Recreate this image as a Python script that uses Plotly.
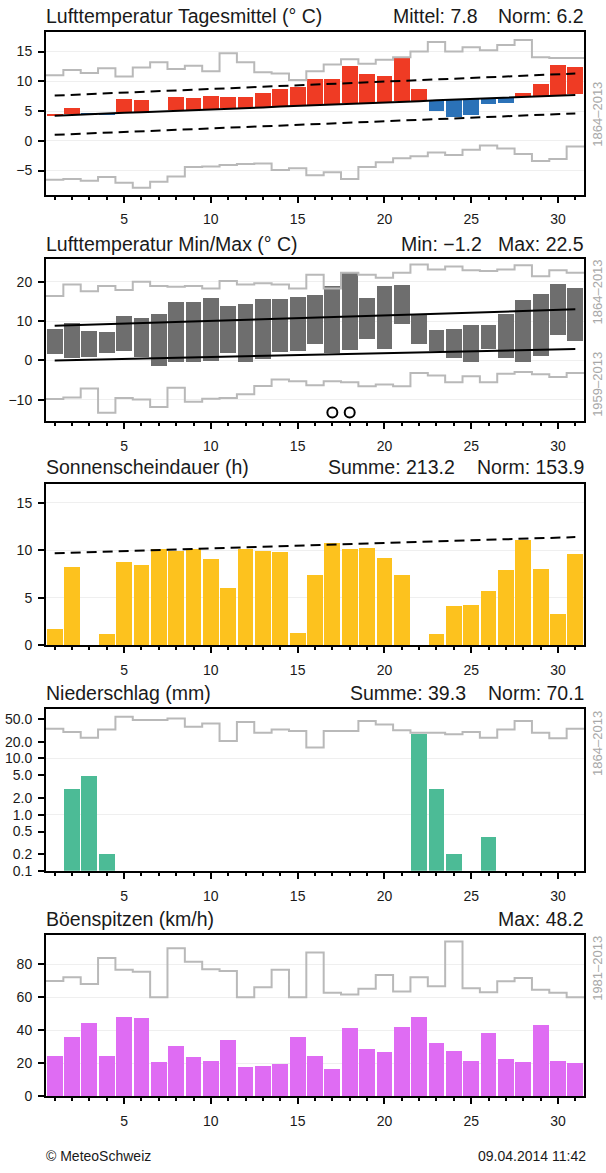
import plotly.graph_objects as go

# ---------------- data ----------------
days = list(range(1, 32))
tick_days = [5, 10, 15, 20, 25, 30]

# Panel 1: daily mean temperature
temp_mean = [4.4, 5.5, 4.2, 4.4, 7.0, 6.8, 4.8, 7.2, 7.1, 7.4, 7.3, 7.2, 7.9, 8.7, 8.9,
             10.3, 10.3, 12.5, 11.1, 10.8, 13.8, 8.7, 5.0, 3.9, 4.3, 6.1, 6.3, 7.9, 9.4, 12.6, 12.3]
temp_norm = [4.2, 4.35, 4.45, 4.55, 4.7, 4.8, 4.9, 5.05, 5.15, 5.25, 5.4, 5.5, 5.6, 5.75, 5.85,
             5.95, 6.1, 6.2, 6.3, 6.45, 6.55, 6.65, 6.8, 6.9, 7.0, 7.15, 7.25, 7.35, 7.5, 7.6, 7.7]
band_days = [1, 31]
temp_band_hi = [7.6, 11.3]
temp_band_lo = [1.0, 4.6]
temp_rec_max = [11.0, 11.9, 11.4, 12.2, 10.8, 12.3, 13.2, 12.05, 12.6, 11.7, 14.7, 13.2, 11.5, 11.3, 10.2,
                11.7, 12.8, 13.7, 12.95, 13.6, 14.05, 15.0, 16.6, 15.0, 15.7, 15.2, 16.1, 16.95, 14.05, 13.9, 13.9]
temp_rec_min = [-6.55, -6.4, -6.7, -6.1, -7.05, -7.9, -6.9, -6.0, -4.4, -4.3, -4.05, -3.9, -3.8, -4.9, -4.6,
                -5.8, -5.3, -6.4, -4.4, -3.6, -2.95, -2.6, -1.95, -2.4, -1.5, -0.8, -1.3, -2.2, -3.4, -3.05, -0.95]

# Panel 2: min / max temperature
tmax = [8.2, 9.7, 7.7, 7.4, 11.3, 10.9, 11.9, 15.0, 15.0, 16.1, 13.9, 14.4, 15.7, 15.7, 16.3,
        16.8, 19.1, 22.5, 16.1, 19.1, 19.3, 12.0, 7.9, 8.1, 9.2, 9.2, 11.9, 15.4, 17.0, 19.6, 18.5]
tmin = [1.8, 0.8, 1.0, 1.9, 2.5, 1.0, -1.2, -0.2, -0.2, -0.1, 2.1, -0.2, 0.4, 2.3, 2.5,
        4.4, 1.9, 2.7, 5.6, 3.1, 9.3, 4.3, 2.5, 0.7, -0.2, 3.1, 0.7, -0.2, 1.2, 6.7, 5.0]
tmax_norm = [8.8, 13.0]
tmin_norm = [0.0, 2.9]
tmax_rec = [16.4, 19.3, 17.6, 18.9, 17.9, 20.0, 18.9, 18.7, 18.9, 18.3, 20.2, 19.3, 19.6, 19.3, 18.3,
            21.8, 18.3, 22.3, 21.8, 21.0, 22.3, 24.4, 23.1, 23.9, 22.9, 22.7, 23.1, 24.2, 21.4, 22.9, 22.3]
tmin_rec = [-9.8, -9.4, -7.1, -13.3, -9.5, -9.9, -11.8, -6.9, -10.5, -9.7, -9.5, -8.6, -6.5, -4.8, -5.3,
            -6.3, -5.3, -5.5, -6.55, -6.1, -6.55, -3.2, -3.8, -5.5, -4.0, -5.5, -3.4, -2.9, -3.5, -4.2, -3.2]
mark_days = [17, 18]
mark_vals = [-13.2, -13.2]

# Panel 3: sunshine duration
sun = [1.7, 8.3, 0.0, 1.2, 8.8, 8.5, 10.1, 9.9, 10.1, 9.1, 6.0, 10.1, 9.9, 9.8, 1.3,
       7.4, 10.8, 10.1, 10.3, 9.2, 7.4, 0.0, 1.2, 4.1, 4.2, 5.7, 7.9, 11.1, 8.0, 3.3, 9.6]
sun_norm = [9.7, 11.4]

# Panel 4: precipitation
precip = [0, 2.9, 5.0, 0.2, 0, 0, 0, 0, 0, 0, 0, 0, 0, 0, 0,
          0, 0, 0, 0, 0, 0, 27.7, 2.9, 0.2, 0, 0.4, 0, 0, 0, 0, 0]
precip_rec = [34, 29.6, 23.5, 33, 55.3, 48.3, 48.3, 51.7, 36.8, 42.2, 20.6, 44.6, 28.8, 33, 30.9,
              15.7, 30.9, 30.9, 46.5, 40.5, 31.7, 28.8, 28.8, 27, 29.6, 23.5, 33, 46.5, 28.8, 22.9, 34]
precip_ticks = [0.1, 0.2, 0.5, 1, 2, 5, 10, 20, 50]
precip_ticktext = ["0.1", "0.2", "0.5", "1.0", "2.0", "5.0", "10.0", "20.0", "50.0"]

# Panel 5: gusts
gust = [24.6, 35.8, 44.2, 24.6, 48.2, 47.6, 20.8, 30.4, 24.2, 21.2, 34.4, 18.0, 18.2, 19.6, 35.8,
        24.4, 16.8, 41.2, 29.0, 26.8, 41.8, 48.2, 32.6, 27.6, 21.2, 38.4, 23.0, 20.8, 43.4, 21.8, 20.4]
gust_rec = [69.8, 72, 68, 83.6, 76.6, 75.4, 60, 89.6, 81.4, 76.8, 75.8, 60, 66, 76.6, 60,
            87, 62.6, 61.6, 65, 73.4, 63.4, 72, 66.6, 93.6, 65.4, 63, 69.6, 71.6, 64.4, 62.6, 60]

# ---------------- styling ----------------
W, H = 606, 1173
ML, MR = 46, 22
PW = W - ML - MR
FONT = "Liberation Sans, Arial, Helvetica, sans-serif"
RED, BLUE, DGRAY = "#ef3b24", "#2b72b8", "#6e6e6e"
YELLOW, GREEN, MAGENTA = "#fdc21e", "#4cbb96", "#df6cf3"
RECGRAY = "#b9b9b9"
BARW = 0.91

def px_x(x):
    return (x - ML) / PW

def px_y(y):
    return (H - y) / H

# panel frames in pixels (top, bottom)
frames = [(32.7, 196.0), (260.3, 424.0), (487.3, 649.7), (713.7, 876.7), (941.3, 1104.0)]

fig = go.Figure()

def step_xy(vals):
    xs = [d - 0.5 for d in days] + [days[-1] + 0.5]
    ys = list(vals) + [vals[-1]]
    return xs, ys

def add_step(vals, k):
    xs, ys = step_xy(vals)
    fig.add_trace(go.Scatter(x=xs, y=ys, mode="lines", line=dict(color=RECGRAY, width=2, shape="hv"),
                             xaxis=f"x{k}", yaxis=f"y{k}", showlegend=False, hoverinfo="skip"))

# Panel 1
add_step(temp_rec_max, 1)
add_step(temp_rec_min, 1)
diff = [m - n for m, n in zip(temp_mean, temp_norm)]
cols = [RED if d >= 0 else BLUE for d in diff]
fig.add_trace(go.Bar(x=days, y=diff, base=temp_norm, marker=dict(color=cols, line=dict(width=0)),
                     width=BARW, xaxis="x1", yaxis="y1", showlegend=False))
fig.add_trace(go.Scatter(x=days, y=temp_norm, mode="lines", line=dict(color="black", width=2),
                         xaxis="x1", yaxis="y1", showlegend=False))
for band in (temp_band_hi, temp_band_lo):
    fig.add_trace(go.Scatter(x=band_days, y=band, mode="lines",
                             line=dict(color="black", width=2, dash="10px,6px"),
                             xaxis="x1", yaxis="y1", showlegend=False))

# Panel 2
add_step(tmax_rec, 2)
add_step(tmin_rec, 2)
fig.add_trace(go.Bar(x=days, y=[a - b for a, b in zip(tmax, tmin)], base=tmin,
                     marker=dict(color=DGRAY, line=dict(width=0)), width=BARW,
                     xaxis="x2", yaxis="y2", showlegend=False))
for nrm in (tmax_norm, tmin_norm):
    fig.add_trace(go.Scatter(x=band_days, y=nrm, mode="lines", line=dict(color="black", width=2),
                             xaxis="x2", yaxis="y2", showlegend=False))
fig.add_trace(go.Scatter(x=mark_days, y=mark_vals, mode="markers",
                         marker=dict(symbol="circle-open", size=10, color="black", line=dict(width=2)),
                         xaxis="x2", yaxis="y2", showlegend=False))

# Panel 3
fig.add_trace(go.Bar(x=days, y=sun, marker=dict(color=YELLOW, line=dict(width=0)), width=BARW,
                     xaxis="x3", yaxis="y3", showlegend=False))
fig.add_trace(go.Scatter(x=band_days, y=sun_norm, mode="lines",
                         line=dict(color="black", width=2, dash="10px,6px"),
                         xaxis="x3", yaxis="y3", showlegend=False))

# Panel 4
add_step(precip_rec, 4)
fig.add_trace(go.Bar(x=days, y=[p if p > 0 else None for p in precip],
                     marker=dict(color=GREEN, line=dict(width=0)), width=BARW,
                     xaxis="x4", yaxis="y4", showlegend=False))

# Panel 5
add_step(gust_rec, 5)
fig.add_trace(go.Bar(x=days, y=gust, marker=dict(color=MAGENTA, line=dict(width=0)), width=BARW,
                     xaxis="x5", yaxis="y5", showlegend=False))

# ---------------- axes ----------------
yranges = [[-9.05, 18.2], [-15.4, 25.9], [0, 17.0], [-1, 1.885], [0, 97.6]]
ytickvals = [[-5, 0, 5, 10, 15], [-10, 0, 10, 20], [0, 5, 10, 15], precip_ticks, [0, 20, 40, 60, 80]]

layout = dict(width=W, height=H, margin=dict(l=ML, r=MR, t=0, b=0),
              plot_bgcolor="white", paper_bgcolor="white", bargap=0,
              font=dict(family=FONT, color="#1a1a1a", size=14))

for i in range(5):
    k = i + 1
    top, bot = frames[i]
    sfx = "" if k == 1 else str(k)
    layout[f"xaxis{sfx}"] = dict(
        domain=[0, 1], range=[0.5, 31.5], anchor=f"y{k}",
        tickmode="array", tickvals=tick_days, ticks="outside", ticklen=6, tickwidth=1.5,
        tickcolor="black", showline=True, linewidth=2, linecolor="black", mirror=True,
        showgrid=False, zeroline=False, tickfont=dict(size=14, family=FONT, color="#1a1a1a"),
        ticklabelstandoff=5,
        minor=dict(tickmode="array", tickvals=days, ticks="outside", ticklen=3, tickwidth=1.5,
                   tickcolor="black", showgrid=False))
    ya = dict(
        domain=[px_y(bot), px_y(top)], range=yranges[i], anchor=f"x{k}",
        tickmode="array", tickvals=ytickvals[i], ticks="outside", ticklen=6, tickwidth=1.5,
        tickcolor="black", showline=True, linewidth=2, linecolor="black", mirror=True,
        showgrid=True, gridcolor="#efefef", gridwidth=1, zeroline=False,
        tickfont=dict(size=14, family=FONT, color="#1a1a1a"), ticklabelstandoff=3)
    if k == 4:
        ya.update(type="log", ticktext=precip_ticktext, showgrid=False,
                  minor=dict(tickmode="array", tickvals=[1, 10], ticks="", showgrid=True,
                             gridcolor="#efefef", gridwidth=1))
    layout[f"yaxis{sfx}"] = ya

fig.update_layout(**layout)

# ---------------- text ----------------
def ann(text, xpx, ypx, xanchor="left", size=19.5, color="#1a1a1a", angle=0):
    fig.add_annotation(text=text, x=px_x(xpx), y=px_y(ypx), xref="paper", yref="paper",
                       xanchor=xanchor, yanchor="middle", showarrow=False, textangle=angle,
                       font=dict(size=size, color=color, family=FONT), borderpad=0)

titles = ["Lufttemperatur Tagesmittel (° C)", "Lufttemperatur Min/Max (° C)",
          "Sonnenscheindauer (h)", "Niederschlag (mm)", "Böenspitzen (km/h)"]
title_y = [16.5, 245.5, 470.5, 697.5, 925.0]
for t, y in zip(titles, title_y):
    ann(t, 45.0, y)

stats = [
    [("Mittel: 7.8", 478.7), ("Norm: 6.2", 584.7)],
    [("Min: −1.2", 482.7), ("Max: 22.5", 584.7)],
    [("Summe: 213.2", 456.0), ("Norm: 153.9", 584.7)],
    [("Summe: 39.3", 466.7), ("Norm: 70.1", 584.7)],
    [("Max: 48.2", 584.7)],
]
for row, y in zip(stats, title_y):
    for txt, xr in row:
        ann(txt, xr, y, xanchor="right")

periods = [("1864–2013", 115), ("1864–2013", 294), ("1959–2013", 387),
           ("1864–2013", 748.5), ("1981–2013", 975)]
for txt, y in periods:
    ann(txt, 597.5, y, xanchor="center", size=13, color="#a8a8a8", angle=-90)

ann("© MeteoSchweiz", 45, 1164, size=14)
ann("09.04.2014 11:42", 587, 1164, xanchor="right", size=14)

fig.write_html("out.html", config={"displayModeBar": False},
               post_script="document.body.style.margin='0px';")
